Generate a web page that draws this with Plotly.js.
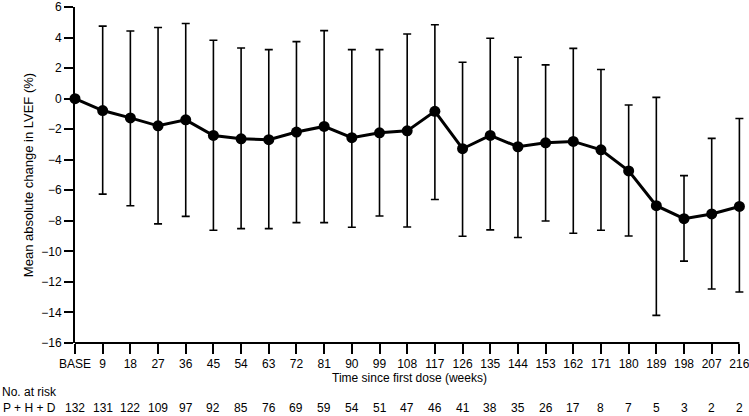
<!DOCTYPE html>
<html>
<head>
<meta charset="utf-8">
<script src="https://cdn.plot.ly/plotly-3.0.1.min.js"></script>
<style>html,body{margin:0;padding:0;background:#fff;}#chart{width:749px;height:416px;}</style>
</head>
<body>
<div id="chart"></div>
<script>
const weeks = [0,9,18,27,36,45,54,63,72,81,90,99,108,117,126,135,144,153,162,171,180,189,198,207,216];
const tickLabels = ["BASE","9","18","27","36","45","54","63","72","81","90","99","108","117","126","135","144","153","162","171","180","189","198","207","216"];
const meanChange = [0,-0.78,-1.26,-1.78,-1.39,-2.41,-2.63,-2.69,-2.19,-1.82,-2.56,-2.24,-2.11,-0.83,-3.28,-2.41,-3.15,-2.89,-2.80,-3.35,-4.73,-7.01,-7.86,-7.55,-7.06];
const upperBound = [0,4.75,4.43,4.66,4.92,3.82,3.32,3.21,3.73,4.45,3.21,3.21,4.23,4.84,2.38,3.95,2.71,2.21,3.29,1.91,-0.42,0.08,-5.04,-2.60,-1.30];
const lowerBound = [0,-6.25,-7.01,-8.20,-7.71,-8.62,-8.51,-8.51,-8.12,-8.12,-8.42,-7.68,-8.40,-6.60,-9.01,-8.59,-9.09,-8.01,-8.81,-8.62,-8.99,-14.19,-10.64,-12.46,-12.66];
const atRisk = [132,131,122,109,97,92,85,76,69,59,54,51,47,46,41,38,35,26,17,8,7,5,3,2,2];
const yTicks = [6,4,2,0,-2,-4,-6,-8,-10,-12,-14,-16];

const plus = upperBound.map((u,i)=>u-meanChange[i]);
const minus = meanChange.map((m,i)=>m-lowerBound[i]);

const trace = {
  x: weeks, y: meanChange, type: 'scatter', mode: 'lines+markers',
  line: {color:'#000', width: 3},
  marker: {color:'#000', size: 11},
  cliponaxis: false,
  error_y: {type:'data', symmetric:false, array: plus, arrayminus: minus, color:'#000', thickness:1.6, width:4},
  hoverinfo:'none'
};

const font = {family:'Liberation Sans, Arial, sans-serif', size:12, color:'#000'};
const annotations = [];
annotations.push({xref:'paper', yref:'paper', x:-0.112, y:-0.146, xanchor:'left', yanchor:'middle', text:'No. at risk', showarrow:false, font:font});
annotations.push({xref:'paper', yref:'paper', x:-0.110, y:-0.193, xanchor:'left', yanchor:'middle', text:'P + H + D', showarrow:false, font:font});
atRisk.forEach((n,i)=>{
  annotations.push({xref:'x', yref:'paper', x:weeks[i], y:-0.193, xanchor:'center', yanchor:'middle', text:String(n), showarrow:false, font:font});
});

const layout = {
  width:749, height:416,
  margin:{l:75, r:5, t:7, b:73},
  paper_bgcolor:'#fff', plot_bgcolor:'#fff',
  font: font,
  showlegend:false,
  xaxis:{
    range:[0,217.5], tickvals: weeks, ticktext: tickLabels,
    showgrid:false, zeroline:false, showline:false,
    ticks:'outside', ticklen:10, tickwidth:2, tickcolor:'#000',
    tickfont: font, ticklabeloverflow:'allow',
    title:{text:'Time since first dose (weeks)', font:font, standoff:2},
    automargin:false
  },
  yaxis:{
    range:[-16,6], tickvals: yTicks, ticktext: yTicks.map(v=>v<0?'\u2212'+Math.abs(v):String(v)),
    showgrid:false, zeroline:false, showline:true, linecolor:'#000', linewidth:2,
    ticks:'outside', ticklen:9, tickwidth:2, tickcolor:'#000',
    tickfont: font, ticklabeloverflow:'allow',
    title:{text:'Mean absolute change in LVEF (%)', font:{family:font.family, size:13, color:'#000'}, standoff:5},
    automargin:false
  },
  shapes:[{type:'line', xref:'x', yref:'paper', x0:weeks[0], x1:weeks[weeks.length-1], y0:0, y1:0, line:{color:'#000', width:2}, layer:'above'}],
  annotations: annotations
};

Plotly.newPlot('chart', [trace], layout, {staticPlot:true, displayModeBar:false});
</script>
</body>
</html>
